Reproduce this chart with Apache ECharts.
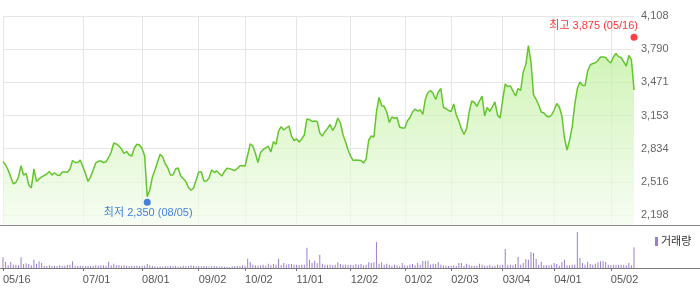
<!DOCTYPE html>
<html>
<head>
<meta charset="utf-8">
<script src="https://cdn.jsdelivr.net/npm/echarts@6/dist/echarts.min.js"></script>
<style>html,body{margin:0;padding:0;background:#fff}#c{width:700px;height:289px}</style>
</head>
<body>
<div id="c"></div>
<script>
// ---- data ----
const tickIndex  = [0, 31, 54, 76, 94, 114, 135, 156, 174, 194, 214, 236];
const tickLabels = ['05/16','07/01','08/01','09/02','10/02','11/01','12/02','01/02','02/03','03/04','04/01','05/02'];
const priceTicks = [2198, 2516, 2834, 3153, 3471, 3790, 4108];

const closes = [
2710,2678,2630,2563,2496,2510,2563,2671,2582,2596,2486,2457,2640,2520,2544,2563,2577,2592,2614,2582,
2604,2582,2577,2611,2611,2608,2640,2721,2702,2702,2726,2664,2596,2520,2563,2630,2697,2714,2717,2702,
2707,2750,2803,2889,2880,2860,2832,2788,2808,2774,2764,2841,2877,2870,2836,2764,2374,2438,2563,2630,
2707,2781,2755,2688,2649,2582,2582,2640,2649,2573,2549,2520,2462,2435,2457,2534,2611,2611,2524,2524,
2553,2630,2608,2620,2596,2573,2616,2646,2643,2633,2625,2645,2671,2670,2668,2774,2880,2860,2788,2702,
2798,2827,2841,2858,2803,2902,2877,3004,3046,3014,3033,3052,2956,2913,2928,2898,2928,2966,3120,3113,
3096,3100,3096,2985,2956,3000,3028,3067,3009,3052,3129,3081,2971,2899,2822,2760,2720,2726,2723,2720,
2697,2736,2918,2956,2947,3187,3326,3249,3240,3187,3086,3139,3127,3134,3043,3033,3033,3100,3134,3187,
3215,3196,3206,3163,3311,3374,3393,3364,3307,3379,3412,3232,3218,3201,3192,3264,3158,3100,3024,2971,
3028,3187,3292,3278,3240,3292,3340,3148,3230,3192,3235,3283,3158,3129,3302,3456,3432,3436,3388,3340,
3412,3393,3571,3643,3823,3666,3350,3307,3254,3187,3177,3148,3139,3158,3206,3268,3235,3148,2937,2822,
2918,3043,3259,3412,3475,3441,3441,3580,3638,3652,3659,3681,3715,3715,3710,3679,3657,3715,3748,3718,
3710,3667,3628,3729,3686,3398
];

const volumes = [
10700,6000,2700,6000,3300,3300,2700,10700,4000,4700,4000,2700,8300,4300,6700,5000,2300,2000,2700,2000,
2300,2000,2700,2000,2300,3000,3300,6700,2300,2000,2300,2000,1700,2300,2000,2300,2700,2300,2700,2700,
2300,6300,2700,4300,2700,3000,2300,2700,2300,2000,2300,2000,2300,1700,2000,2300,4000,2700,2000,1700,
1300,1700,1300,2000,1700,2300,1700,2000,1300,1700,2300,1700,2000,2700,2300,1700,2000,1700,2000,1700,
1300,1700,2000,1700,1300,1700,1300,1300,1000,1700,2000,2300,2000,2700,2300,9300,6000,3300,2700,2300,
2700,3300,2300,4300,2700,4000,3300,9300,3000,5000,3300,4000,4000,3300,3300,3000,3300,3300,20300,8300,
5300,7300,4700,13300,4300,3300,3300,3300,2700,3300,5700,4000,3300,3300,3300,3300,2700,4000,3300,4000,
2700,3300,5700,5000,5700,26000,4300,5700,3300,4300,3300,2300,3300,2700,1700,5000,2700,2300,3300,4000,
2700,5000,3300,7300,7300,7300,3300,4300,4000,6000,3300,2700,2300,2000,2300,2700,2000,5000,5000,2300,
4300,3300,2300,2300,2300,4300,3300,2300,2300,3300,1700,2300,3300,2700,3300,19000,3300,3300,2700,4000,
11000,3300,5000,9000,8300,16000,15000,9000,3300,6000,2700,2700,2700,3300,5000,4000,2300,6000,8300,2700,
2700,3300,3300,36000,10000,5000,3300,6000,4000,3300,4300,5700,6700,6700,6000,3300,2700,3300,3300,3300,
3300,3300,2700,5000,2700,20700
];

const highMark = { index: 245, value: 3875, label: '최고 3,875 (05/16)' };
const lowMark  = { index: 56,  value: 2350, label: '최저 2,350 (08/05)' };

// ---- chart ----
const categories = closes.map((_, i) => String(i));
const tickSet = new Set(tickIndex);
const labelOf = {};
tickIndex.forEach((t, k) => { labelOf[t] = tickLabels[k]; });
const fmt = v => String(Math.round(v)).replace(/\B(?=(\d{3})+(?!\d))/g, ',');
const FONT = "'Liberation Sans', 'Noto Sans CJK KR', sans-serif";

const chart = echarts.init(document.getElementById('c'), null, { renderer: 'canvas' });
chart.setOption({
  animation: false,
  textStyle: { fontFamily: FONT },
  grid: [
    { left: 3, right: 66, top: 16, bottom: 64 },
    { left: 3, right: 66, top: 228, bottom: 21 }
  ],
  legend: {
    data: ['거래량'],
    left: 650, top: 231,
    icon: 'rect', itemWidth: 3, itemHeight: 9, itemGap: 4,
    textStyle: { fontSize: 11, color: '#333', fontFamily: FONT, padding: [0, 0, 0, -2] }
  },
  xAxis: [
    {
      type: 'category', gridIndex: 0, data: categories, boundaryGap: false,
      axisLine: { show: false }, axisTick: { show: false }, axisLabel: { show: false },
      splitLine: { show: true, interval: i => tickSet.has(i), lineStyle: { color: '#e6e6e6', width: 1 } }
    },
    {
      type: 'category', gridIndex: 1, data: categories, boundaryGap: false,
      axisLine: { show: true, lineStyle: { color: '#777', width: 1 } },
      axisTick: { show: true, interval: i => tickSet.has(i), length: 3, lineStyle: { color: '#777' } },
      axisLabel: {
        show: true, interval: i => tickSet.has(i), align: 'left', margin: 6,
        formatter: (v, i) => labelOf[i] || '', color: '#555', fontSize: 11, fontFamily: FONT
      },
      splitLine: { show: false }
    }
  ],
  yAxis: [
    {
      type: 'value', gridIndex: 0, position: 'right', min: 2102, max: 4108,
      axisLine: { show: false },
      axisTick: { show: false, customValues: priceTicks },
      axisLabel: { customValues: priceTicks, formatter: v => fmt(v), color: '#666', fontSize: 11, margin: 7, fontFamily: FONT },
      splitLine: { show: true, lineStyle: { color: '#e6e6e6', width: 1 } }
    },
    {
      type: 'value', gridIndex: 1, min: 0, max: 40000, show: false,
      splitLine: { show: false }
    }
  ],
  series: [
    {
      name: '종가', type: 'line', xAxisIndex: 0, yAxisIndex: 0, data: closes,
      showSymbol: false, symbol: 'none',
      lineStyle: { color: '#62c62c', width: 1.5 },
      areaStyle: {
        color: new echarts.graphic.LinearGradient(0, 0, 0, 1, [
          { offset: 0, color: '#b9ee93' },
          { offset: 1, color: '#f3fbee' }
        ])
      },
      z: 3
    },
    {
      name: 'marks', type: 'scatter', xAxisIndex: 0, yAxisIndex: 0,
      symbol: 'circle', symbolSize: 7, z: 5,
      data: [
        {
          value: [highMark.index, highMark.value], symbolOffset: [0, -3],
          itemStyle: { color: '#ff1010' },
          label: { show: true, position: 'top', align: 'right', distance: 2, offset: [4, 0],
                   formatter: highMark.label, color: '#ff0000', fontSize: 11, fontFamily: FONT }
        },
        {
          value: [lowMark.index, lowMark.value], symbolOffset: [0, 3],
          itemStyle: { color: '#1a62d6' },
          label: { show: true, position: 'bottom', distance: 2, offset: [1, 0],
                   formatter: lowMark.label, color: '#1a62d6', fontSize: 11, fontFamily: FONT }
        }
      ]
    },
    {
      name: '거래량', type: 'bar', xAxisIndex: 1, yAxisIndex: 1, data: volumes,
      barWidth: 1, itemStyle: { color: '#9a7fd0' }
    }
  ],
  graphic: [
    { type: 'line', shape: { x1: 0, y1: 225.5, x2: 700, y2: 225.5 }, style: { stroke: '#888', lineWidth: 1 }, z: 10 },
    { type: 'line', shape: { x1: 0, y1: 268.5, x2: 700, y2: 268.5 }, style: { stroke: '#777', lineWidth: 1 }, z: 10 }
  ]
});
</script>
</body>
</html>
